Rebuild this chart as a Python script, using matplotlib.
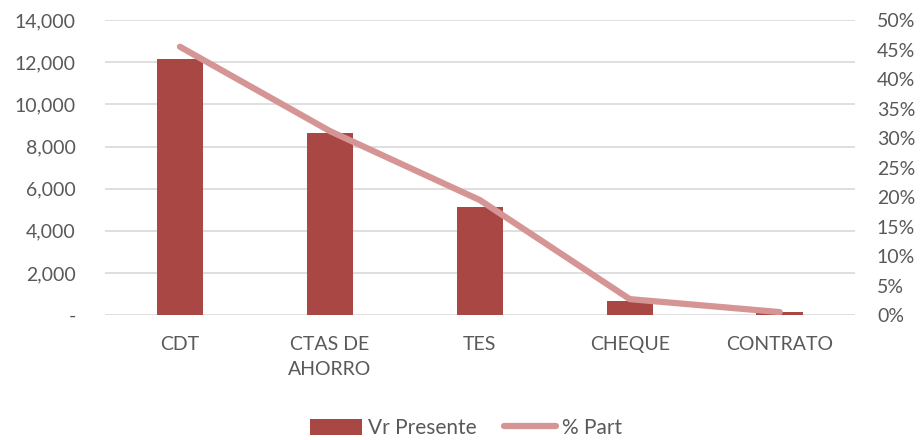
import matplotlib.pyplot as plt
from matplotlib.ticker import FuncFormatter

categorias = ['CDT', 'CTAS DE\nAHORRO', 'TES', 'CHEQUE', 'CONTRATO']
vr_presente = [12180, 8650, 5140, 680, 130]
pct_part = [0.455, 0.312, 0.195, 0.027, 0.005]

bar_color = '#A94744'
line_color = '#D69595'
text_color = '#595959'
grid_color = '#D9D9D9'

plt.rcParams['font.family'] = ['Lato', 'DejaVu Sans']

fig = plt.figure(figsize=(9.21, 4.4), dpi=100)
ax = fig.add_axes([0.114, 0.284, 0.814, 0.67])
x = list(range(len(categorias)))

ax.bar(x, vr_presente, width=0.31, color=bar_color, zorder=2, label='Vr Presente')
ax.set_ylim(0, 14000)
ax.set_xlim(-0.5, len(categorias) - 0.5)
ax.set_yticks(range(0, 14001, 2000))
ax.yaxis.set_major_formatter(FuncFormatter(lambda v, p: '-' if v == 0 else f'{v:,.0f}'))
ax.grid(axis='y', color=grid_color, linewidth=1.2, zorder=0)
ax.set_xticks(x)
ax.set_xticklabels(categorias, linespacing=1.6)
for s in ax.spines.values():
    s.set_visible(False)
ax.tick_params(axis='y', length=0, pad=21, labelsize=14, labelcolor=text_color)
ax.tick_params(axis='x', length=0, pad=15, labelsize=14, labelcolor=text_color)

ax2 = ax.twinx()
ax2.plot(x, pct_part, color=line_color, linewidth=4.5, solid_capstyle='round',
         solid_joinstyle='round', label='% Part', zorder=3)
ax2.set_ylim(0, 0.5)
ax2.set_yticks([i * 0.05 for i in range(11)])
ax2.yaxis.set_major_formatter(FuncFormatter(lambda v, p: f'{v * 100:.0f}%'))
for s in ax2.spines.values():
    s.set_visible(False)
ax2.tick_params(axis='y', length=0, pad=16, labelsize=14, labelcolor=text_color)

h1, l1 = ax.get_legend_handles_labels()
h2, l2 = ax2.get_legend_handles_labels()
fig.legend(h1 + h2, l1 + l2, loc='center', bbox_to_anchor=(0.506, 0.027), ncol=2,
           frameon=False, fontsize=15, labelcolor=text_color, handlelength=2.5,
           handleheight=0.85, columnspacing=1.3, handletextpad=0.3)

fig.savefig('out.png', dpi=100)
